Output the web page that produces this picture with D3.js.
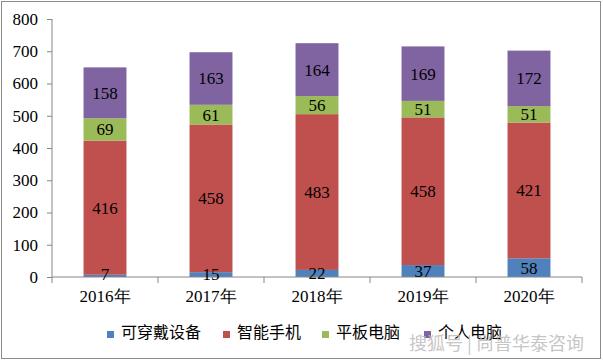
<!DOCTYPE html>
<html>
<head>
<meta charset="utf-8">
<script src="https://cdn.jsdelivr.net/npm/d3@7"></script>
<style>
  body { margin: 0; background: #fff; }
  svg { display: block; }
</style>
</head>
<body>
<script>
const years = ["2016年", "2017年", "2018年", "2019年", "2020年"];
const seriesNames = ["可穿戴设备", "智能手机", "平板电脑", "个人电脑"];
const wearable = [7, 15, 22, 37, 58];
const phone = [416, 458, 483, 458, 421];
const tablet = [69, 61, 56, 51, 51];
const pc = [158, 163, 164, 169, 172];
const yTicks = [0, 100, 200, 300, 400, 500, 600, 700, 800];
const colors = ["#4F81BD", "#C0504D", "#9BBB59", "#8064A2"];

const W = 603, H = 362;
let margin = {top: 19, right: 21, bottom: 85, left: 52}
  , width = 582 - margin.left
  , height = 277 - margin.top;

const rows = years.map((y, i) => ({
  year: y,
  "可穿戴设备": wearable[i],
  "智能手机": phone[i],
  "平板电脑": tablet[i],
  "个人电脑": pc[i]
}));
const stacked = d3.stack().keys(seriesNames)(rows);

let xScale = d3.scaleBand().domain(years).range([0, width]).paddingInner(0.595).paddingOuter(0.2975);
let yScale = d3.scaleLinear().domain([0, 800]).range([height, 0]);

const serif = "'Liberation Serif', 'DejaVu Serif', serif";

const root = d3.select("body").append("svg")
  .attr("width", W)
  .attr("height", H);

// outer frame
root.append("rect")
  .attr("x", 1.5).attr("y", 1.5)
  .attr("width", W - 4).attr("height", H - 5)
  .attr("fill", "none")
  .attr("stroke", "#8c8c8c");

const svg = root.append("g")
  .attr("transform", "translate(" + margin.left + "," + margin.top + ")");

// bars
svg.selectAll(".layer")
  .data(stacked)
  .enter().append("g")
  .attr("class", "layer")
  .attr("fill", (d, i) => colors[i])
  .selectAll("rect")
  .data(d => d)
  .enter().append("rect")
  .attr("x", d => xScale(d.data.year))
  .attr("width", xScale.bandwidth())
  .attr("y", d => yScale(d[1]))
  .attr("height", d => yScale(d[0]) - yScale(d[1]));

// y axis
const yAxis = svg.append("g")
  .call(d3.axisLeft(yScale).tickValues(yTicks).tickSize(5).tickPadding(9));
yAxis.selectAll("path, line").attr("stroke", "#868686");
yAxis.select(".domain").attr("d", "M0," + height + "V0");
yAxis.selectAll("text")
  .attr("fill", "#000")
  .style("font-family", serif)
  .style("font-size", "17px");

// x axis
const xAxis = svg.append("g")
  .attr("transform", "translate(0," + height + ")")
  .call(d3.axisBottom(xScale).tickSize(0).tickPadding(13));
xAxis.select(".domain").attr("stroke", "#868686").attr("d", "M0,0H" + width);
xAxis.selectAll("text")
  .attr("fill", "#000")
  .style("font-family", serif)
  .style("font-size", "17px");
const step = xScale.step();
svg.selectAll(".xtick")
  .data(d3.range(years.length + 1))
  .enter().append("line")
  .attr("class", "xtick")
  .attr("x1", i => i * step).attr("x2", i => i * step)
  .attr("y1", height).attr("y2", height + 6)
  .attr("stroke", "#868686");

// value labels, drawn above every bar
const labels = [];
stacked.forEach(s => s.forEach(v => labels.push({v: v, key: s.key})));
svg.append("g").selectAll("text")
  .data(labels)
  .enter().append("text")
  .attr("x", d => xScale(d.v.data.year) + xScale.bandwidth() / 2)
  .attr("y", d => Math.min(yScale((d.v[0] + d.v[1]) / 2), height - 3))
  .attr("dy", "0.35em")
  .attr("text-anchor", "middle")
  .attr("fill", "#000")
  .style("font-family", serif)
  .style("font-size", "17px")
  .text(d => d.v.data[d.key]);

// legend
const legendX = [107, 223, 322, 424];
const legend = root.append("g");
seriesNames.forEach((name, i) => {
  legend.append("rect")
    .attr("x", legendX[i]).attr("y", 331)
    .attr("width", 7).attr("height", 7)
    .attr("fill", colors[i]);
  legend.append("text")
    .attr("x", legendX[i] + 14).attr("y", 332)
    .attr("dy", "0.35em")
    .style("font-family", "'Noto Sans CJK SC', sans-serif")
    .style("font-size", "16px")
    .attr("fill", "#000")
    .text(name);
});

// watermark
root.append("text")
  .attr("x", 584).attr("y", 344)
  .attr("dy", "0.35em")
  .attr("text-anchor", "end")
  .style("font-family", "'Noto Sans CJK SC', sans-serif")
  .style("font-size", "18px")
  .attr("fill", "#bdbdbd")
  .attr("opacity", 0.85)
  .text("搜狐号 | 尚普华泰咨询");
</script>
</body>
</html>
